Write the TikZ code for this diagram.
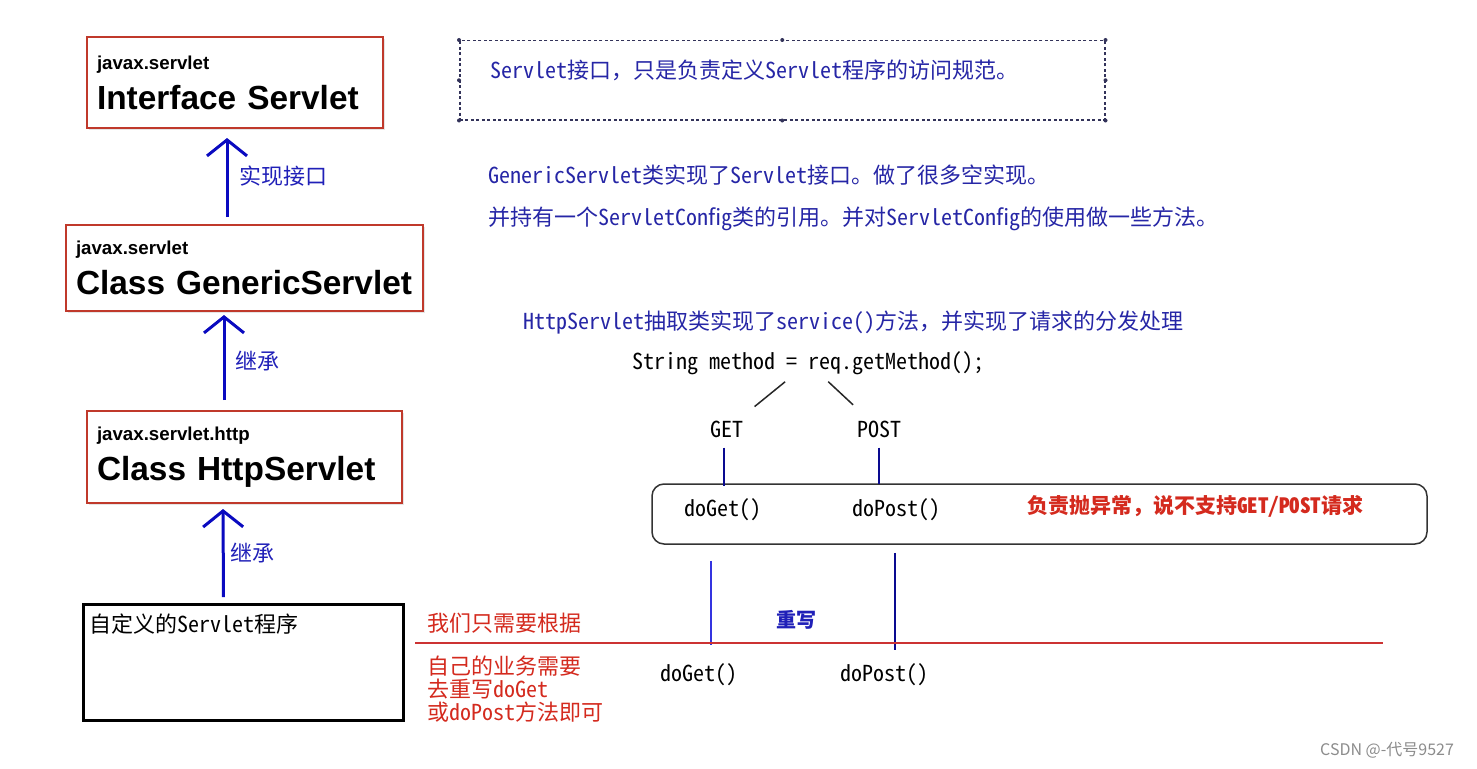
\documentclass[tikz,border=0pt]{standalone}
\usepackage{fontspec}
\setmainfont{Liberation Sans}
\newfontfamily\cjk[RawFeature=+hwid]{Noto Sans CJK SC}
\newfontfamily\wmfont{Noto Sans CJK SC}
\usetikzlibrary{arrows.meta,shadows}

\definecolor{boxred}{HTML}{C0392B}
\definecolor{arrowblue}{HTML}{0A0AC0}
\definecolor{labelblue}{HTML}{2020B8}
\definecolor{noteblue}{HTML}{2626A6}
\definecolor{notegray}{HTML}{33335A}
\definecolor{warnred}{HTML}{D42A1E}
\definecolor{linenavy}{HTML}{0A0A90}
\definecolor{overblue}{HTML}{3434E0}
\definecolor{sepred}{HTML}{CC3333}

\newcommand{\pkg}[1]{{\fontsize{18.7}{40}\selectfont #1}}
\newcommand{\comma}{{\wmfont ，}}

\begin{document}
\begin{tikzpicture}[x=1pt,y=-1pt]
    \tikzset{cls/.style={draw=boxred,line width=2pt,fill=white,rectangle,anchor=north west,align=left,inner xsep=10pt,inner ysep=0pt,font=\fontsize{33.4}{40}\selectfont\bfseries,drop shadow={opacity=0.2,shadow xshift=2pt,shadow yshift=-2pt}},
      txt/.style={anchor=west,inner sep=0pt,font=\cjk\fontsize{22}{26}\selectfont},
      note/.style={txt,draw=notegray,dash pattern=on 3pt off 2.5pt,line width=1.5pt,anchor=north west,align=left,inner xsep=31pt,inner ysep=0pt,text height=38pt,text depth=41pt,text=noteblue},
      callbox/.style={draw=black!80,line width=1.5pt,rounded corners=12pt,minimum width=775pt,minimum height=60pt,inner sep=0pt}}
    \tikzstyle{inherit}=[-{Straight Barb[length=16pt,width=40pt]},line width=3pt,arrowblue]
    \tikzstyle{branch}=[line width=1.5pt,black!85]
    \tikzstyle{call}=[line width=2.5pt,linenavy]
    \tikzstyle{over}=[line width=2pt]
    \path[fill=white] (0,0) rectangle (1477,768);

    % class hierarchy
    \node[cls,text width=276pt,minimum height=91pt] (IS) at (86,36) {\pkg{javax.servlet}\\Interface Servlet};
    \node[cls,text width=337pt,minimum height=86pt] (GS) at (65,224) {\pkg{javax.servlet}\\Class GenericServlet};
    \node[cls,text width=295pt,minimum height=92pt] (HS) at (86,410) {\pkg{javax.servlet.http}\\Class HttpServlet};
    \node[txt,draw,line width=3pt,anchor=north west,align=left,text width=308pt,inner xsep=6pt,inner ysep=8pt,text height=20pt,text depth=80pt] (MY) at (82,603) {自定义的Servlet程序};

    \draw[inherit,shorten <=7pt,shorten >=9pt] ([xshift=-17.5pt]GS.north) -- ([xshift=-8pt]IS.south) node[midway,txt,xshift=11pt,text=labelblue] {实现接口};
    \draw[inherit,shorten <=10pt,shorten >=3pt] ([xshift=-20.5pt]HS.north) -- ([xshift=-20.5pt]GS.south) node[midway,txt,xshift=10pt,text=labelblue] {继承};
    \draw[inherit,shorten <=6pt,shorten >=5pt] ([xshift=-20pt]MY.north) -- ([xshift=-21.5pt]HS.south) node[midway,txt,xshift=6pt,text=labelblue] {继承};

    % notes
    \node[note,text width=583pt] (NOTE) at (459,40) {Servlet接口\comma 只是负责定义Servlet程序的访问规范。};
    \foreach \h in {north west,north,north east,east,south east,south,south west,west}
      \fill[notegray] (NOTE.\h) circle (2pt);
    \node[txt,text=noteblue] (GEN) at (488,175) {GenericServlet类实现了Servlet接口。做了很多空实现。};
    \node[txt,text=noteblue] (CFG) at (488,219) {并持有一个ServletConfig类的引用。并对ServletConfig的使用做一些方法。};
    \node[txt,text=noteblue] (HTTP) at (523,323) {HttpServlet抽取类实现了service()方法\comma 并实现了请求的分发处理};

    % dispatch
    \node[txt] (SM) at (632,363) {String method = req.getMethod();};
    \node[txt,anchor=center] (GET) at (727,429) {GET};
    \node[txt,anchor=center] (POST) at (879,429) {POST};
    \draw[branch,shorten <=11pt,shorten >=22pt] (SM) -- (GET);
    \draw[branch,shorten <=10pt,shorten >=23pt] (SM) -- (POST);

    \node[callbox] (CALL) at (1039.5,514) {};
    \node[txt] (DG1) at (684,510) {doGet()};
    \node[txt] (DP1) at (852,510) {doPost()};
    \node[txt,text=warnred,font=\cjk\bfseries\fontsize{21}{26}\selectfont] (ERR) at (1027,506) {负责抛异常\comma 说不支持GET/POST请求};
    \draw[call,shorten <=10pt,shorten >=-3pt] ([xshift=-3pt]GET.south) -- ([xshift=-3pt]GET.south |- CALL.north);
    \draw[call,shorten <=10pt,shorten >=-1pt] (POST.south) -- (POST.south |- CALL.north);

    % override
    \node[txt] (DG2) at (660,675) {doGet()};
    \node[txt] (DP2) at (840,675) {doPost()};
    \draw[over,overblue,shorten <=16pt,shorten >=19pt] ([xshift=12.5pt]DG2.north |- CALL.south) -- ([xshift=12.5pt]DG2.north);
    \draw[over,linenavy,shorten <=8pt,shorten >=14pt] ([xshift=11pt]DP2.north |- CALL.south) -- ([xshift=11pt]DP2.north);
    \node[txt,text=labelblue,font=\cjk\bfseries\fontsize{20}{24}\selectfont] (OVR) at (776,620) {重写};

    \node[txt,text=warnred] (NEED) at (427,623) {我们只需要根据};
    \draw[line width=1.5pt,sepred] (415,643) -- (1383,643);
    \node[txt,text=warnred,align=left,anchor=north west,font=\cjk\fontsize{22}{23}\selectfont] (HOW) at (427,656) {自己的业务需要\\去重写doGet\\或doPost方法即可};

    \node[anchor=west,inner sep=0pt,font=\wmfont\fontsize{16}{18}\selectfont,text=black!45] (WM) at (1320,750) {CSDN @-代号9527};
\end{tikzpicture}
\end{document}
